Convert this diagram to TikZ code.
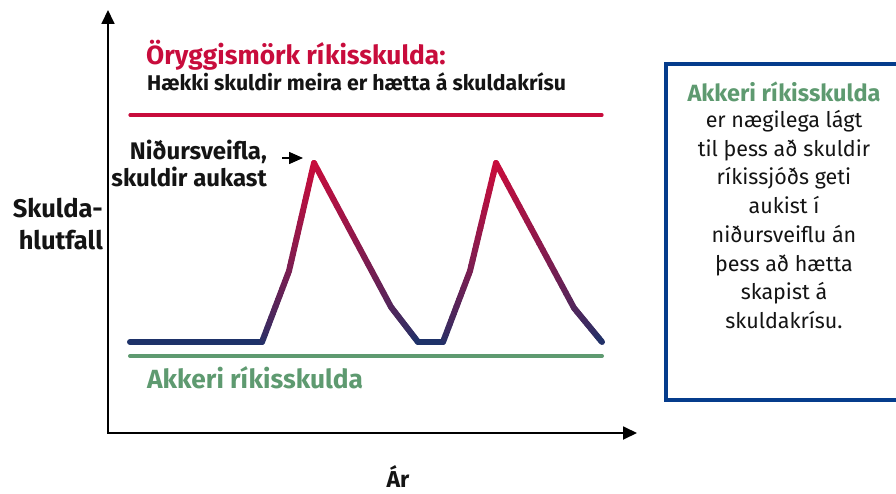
\documentclass[tikz,border=0pt]{standalone}
\usepackage{fontspec}
\setmainfont{Fira Sans}
\usetikzlibrary{arrows.meta}
\definecolor{crim}{RGB}{200,12,60}
\definecolor{navyc}{RGB}{30,50,105}
\definecolor{anch}{RGB}{94,154,112}
\definecolor{boxblue}{RGB}{5,60,140}
\definecolor{txt}{RGB}{20,20,20}
\tikzset{
  axis/.style={line width=1.8pt, draw=black, -{Triangle[length=14pt,width=13pt]}},
  curveseg/.style={line width=6pt, line cap=round},
  lbl/.style={font=\bfseries, text=txt, inner sep=0pt},
  big/.style={font=\fontsize{25.5}{30}\selectfont\bfseries},
}
\begin{document}
\begin{tikzpicture}[x=1pt,y=-1pt]
\useasboundingbox (0,0) rectangle (896,494);
\clip (0,0) rectangle (896,494);
% axes
\coordinate (o) at (108,433);
\coordinate (ytop) at (108,10);
\coordinate (xend) at (637,433);
\draw[axis] (o) -- (ytop);
\draw[axis] ([xshift=-1pt]o) -- (xend);
% red limit line
\coordinate (r1) at (130,115);
\coordinate (r2) at (602,115);
\draw[crim, line width=3.2pt, line cap=round] (r1) -- (r2);
% green anchor line
\coordinate (g1) at (130,356);
\coordinate (g2) at (602,356);
\draw[anch, line width=4pt, line cap=round] (g1) -- (g2);
% gradient curve
\foreach \xa/\ya/\xb/\yb in {130/342/262/342, 262/342/289/271, 289/271/314/163, 314/163/391/307, 391/307/418/342, 418/342/443/342, 443/342/470/271, 470/271/496/163, 496/163/574/308, 574/308/602/342}{
  \foreach \i in {1,...,20}{
    \pgfmathsetmacro\ta{(\i-1)/20}
    \pgfmathsetmacro\tb{\i/20}
    \pgfmathsetmacro\ym{\ya+(\yb-\ya)*(\i-0.5)/20}
    \pgfmathsetmacro\pc{max(0,min(100,100*((342-\ym)/179)^0.7))}
    \draw[curveseg, color=crim!\pc!navyc] ({\xa+(\xb-\xa)*\ta},{\ya+(\yb-\ya)*\ta}) -- ({\xa+(\xb-\xa)*\tb},{\ya+(\yb-\ya)*\tb});
  }
}
% texts
\node[lbl, anchor=base west, text=crim, font=\fontsize{26.3}{30}\selectfont\bfseries] (title) at (146,65) {Öryggismörk ríkisskulda:};
\node[lbl, anchor=base west, font=\fontsize{21.3}{25}\selectfont\bfseries] (sub) at (147,91) {Hækki skuldir meira er hætta á skuldakrísu};
\node[lbl, anchor=base east, font=\fontsize{24}{28}\selectfont\bfseries] (down1) at (267,160) {Niðursveifla,};
\node[lbl, anchor=base east, font=\fontsize{24}{28}\selectfont\bfseries] (down2) at (267,187) {skuldir aukast};
\coordinate (arS) at (282,158);
\coordinate (arE) at (303,158);
\draw[line width=1.5pt, -{Triangle[length=14pt,width=12pt]}] (arS) -- (arE);
\node[lbl, anchor=base east, big] (ylab1) at (103,218) {Skulda-};
\node[lbl, anchor=base east, big] (ylab2) at (103,250) {hlutfall};
\node[lbl, anchor=base west, text=anch, font=\fontsize{26.3}{30}\selectfont\bfseries] (anchor) at (147,388) {Akkeri ríkisskulda};
\node[lbl, anchor=base, font=\fontsize{23}{26}\selectfont\bfseries] (xlab) at (398,487) {Ár};
% info box
\draw[boxblue, line width=4pt] (666,64) rectangle (905,400);
\node[inner sep=0pt, anchor=base, text=txt, font=\fontsize{23.5}{28}\selectfont\bfseries, text=anch] (infohead) at (784,102) {Akkeri ríkisskulda};
\node[inner sep=0pt, anchor=north, align=center, text=txt, font=\fontsize{21.5}{28.75}\selectfont] (info) at (784,110)
  {er nægilega lágt\\til þess að skuldir\\ríkissjóðs geti\\aukist í\\niðursveiflu án\\þess að hætta\\skapist á\\skuldakrísu.};
\end{tikzpicture}
\end{document}
